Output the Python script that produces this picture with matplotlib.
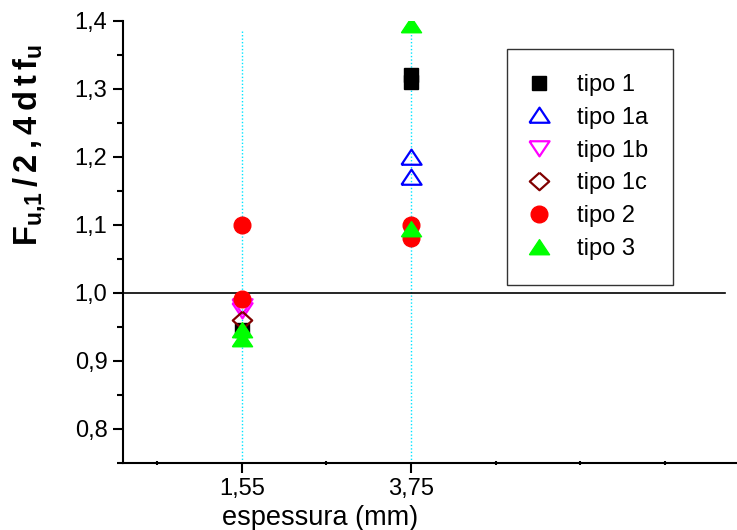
import matplotlib
matplotlib.use("Agg")
import matplotlib.pyplot as plt
from matplotlib.ticker import FixedLocator, MultipleLocator, FuncFormatter

plt.rcParams["font.family"] = ["Liberation Sans", "DejaVu Sans"]
plt.rcParams["mathtext.fontset"] = "custom"
plt.rcParams["mathtext.rm"] = "Liberation Sans"
plt.rcParams["mathtext.bf"] = "Liberation Sans:bold"

# Thickness values (mm) and normalised resistance per specimen type
esp_tipo1 = [1.55, 3.75, 3.75]
val_tipo1 = [0.945, 1.32, 1.31]

esp_tipo1a = [3.75, 3.75]
val_tipo1a = [1.20, 1.17]

esp_tipo1b = [1.55, 1.55]
val_tipo1b = [0.98, 0.975]

esp_tipo1c = [1.55]
val_tipo1c = [0.96]

esp_tipo2 = [1.55, 1.55, 3.75, 3.75]
val_tipo2 = [1.10, 0.99, 1.10, 1.08]

esp_tipo3 = [1.55, 1.55, 3.75, 3.75]
val_tipo3 = [0.945, 0.932, 1.393, 1.094]

espessuras = [1.55, 3.75]
xtick_labels = ["1,55", "3,75"]

fig = plt.figure(figsize=(7.37, 5.30), dpi=100)
ax = fig.add_axes([0.1665, 0.127, 1.0 - 0.1665, 0.961 - 0.127])

# Marker shapes: wide triangles and diamond
tri_up = [(-1, -0.72), (1, -0.72), (0, 0.78), (-1, -0.72)]
tri_dn = [(-1, 0.72), (1, 0.72), (0, -0.78), (-1, 0.72)]
diamond = [(0, 0.9), (1, 0), (0, -0.9), (-1, 0), (0, 0.9)]

# guide lines at each tested thickness
ax.vlines(espessuras, 0.75, 1.386, colors="#00e5ff", linestyles=(0, (1, 1.5)), linewidth=1.0, zorder=1)
ax.axhline(1.0, xmin=0, xmax=0.98, color="black", linewidth=1.2, zorder=1)

ax.plot(esp_tipo1, val_tipo1, ls="none", marker="s", ms=10.5, color="black",
        mec="black", label="tipo 1", zorder=3)
ax.plot(esp_tipo1a, val_tipo1a, ls="none", marker=tri_up, ms=14.5, mfc="none",
        mec="blue", mew=1.6, label="tipo 1a", zorder=3)
ax.plot(esp_tipo1b, val_tipo1b, ls="none", marker=tri_dn, ms=14.5, mfc="none",
        mec="magenta", mew=1.6, label="tipo 1b", zorder=3)
ax.plot(esp_tipo1c, val_tipo1c, ls="none", marker=diamond, ms=14, mfc="none",
        mec="#800000", mew=1.6, label="tipo 1c", zorder=3)
ax.plot(esp_tipo2, val_tipo2, ls="none", marker="o", ms=12, color="red",
        mec="red", label="tipo 2", zorder=3)
ax.plot(esp_tipo3, val_tipo3, ls="none", marker=tri_up, ms=14.5, color="#00ff00",
        mec="#00ff00", label="tipo 3", zorder=3)

ax.set_xlim(0, 7.99)
ax.set_ylim(0.75, 1.4)

for side in ("top", "right"):
    ax.spines[side].set_visible(False)
for side in ("left", "bottom"):
    ax.spines[side].set_linewidth(1.5)

ax.xaxis.set_major_locator(FixedLocator(espessuras))
ax.set_xticklabels(xtick_labels)
ax.xaxis.set_minor_locator(FixedLocator([0.45, 2.65, 4.85, 5.95, 7.05]))
ax.yaxis.set_major_locator(MultipleLocator(0.1))
ax.yaxis.set_minor_locator(MultipleLocator(0.05))
ax.yaxis.set_major_formatter(FuncFormatter(lambda v, p: f"{v:.1f}".replace(".", ",")))

ax.tick_params(axis="both", which="major", direction="out", length=7, width=1.5,
               labelsize=17, pad=4)
ax.tick_params(axis="y", which="minor", direction="out", length=4, width=1.5)
ax.tick_params(axis="x", which="minor", direction="inout", length=3, width=1.5)

ax.set_xlabel("espessura (mm)", fontsize=19.5, labelpad=0)
ax.xaxis.set_label_coords(0.321, -0.095)
ax.set_ylabel(r"$\mathbf{F_{u{,}1}\,/\,2\,{,}\,4\,d\,t\,f_{u}}$", fontsize=23.5)
ax.yaxis.set_label_coords(-0.122, 0.719)

leg = ax.legend(loc="upper left", bbox_to_anchor=(507 / 737, 1 - 49 / 530),
                bbox_transform=fig.transFigure, fontsize=17, frameon=True,
                fancybox=False, edgecolor="black", handlelength=0.6,
                handletextpad=1.3, labelspacing=0.46, borderpad=1.05,
                borderaxespad=0, markerscale=1.0)
leg.get_frame().set_linewidth(1.0)

fig.savefig("out.png", dpi=100)
